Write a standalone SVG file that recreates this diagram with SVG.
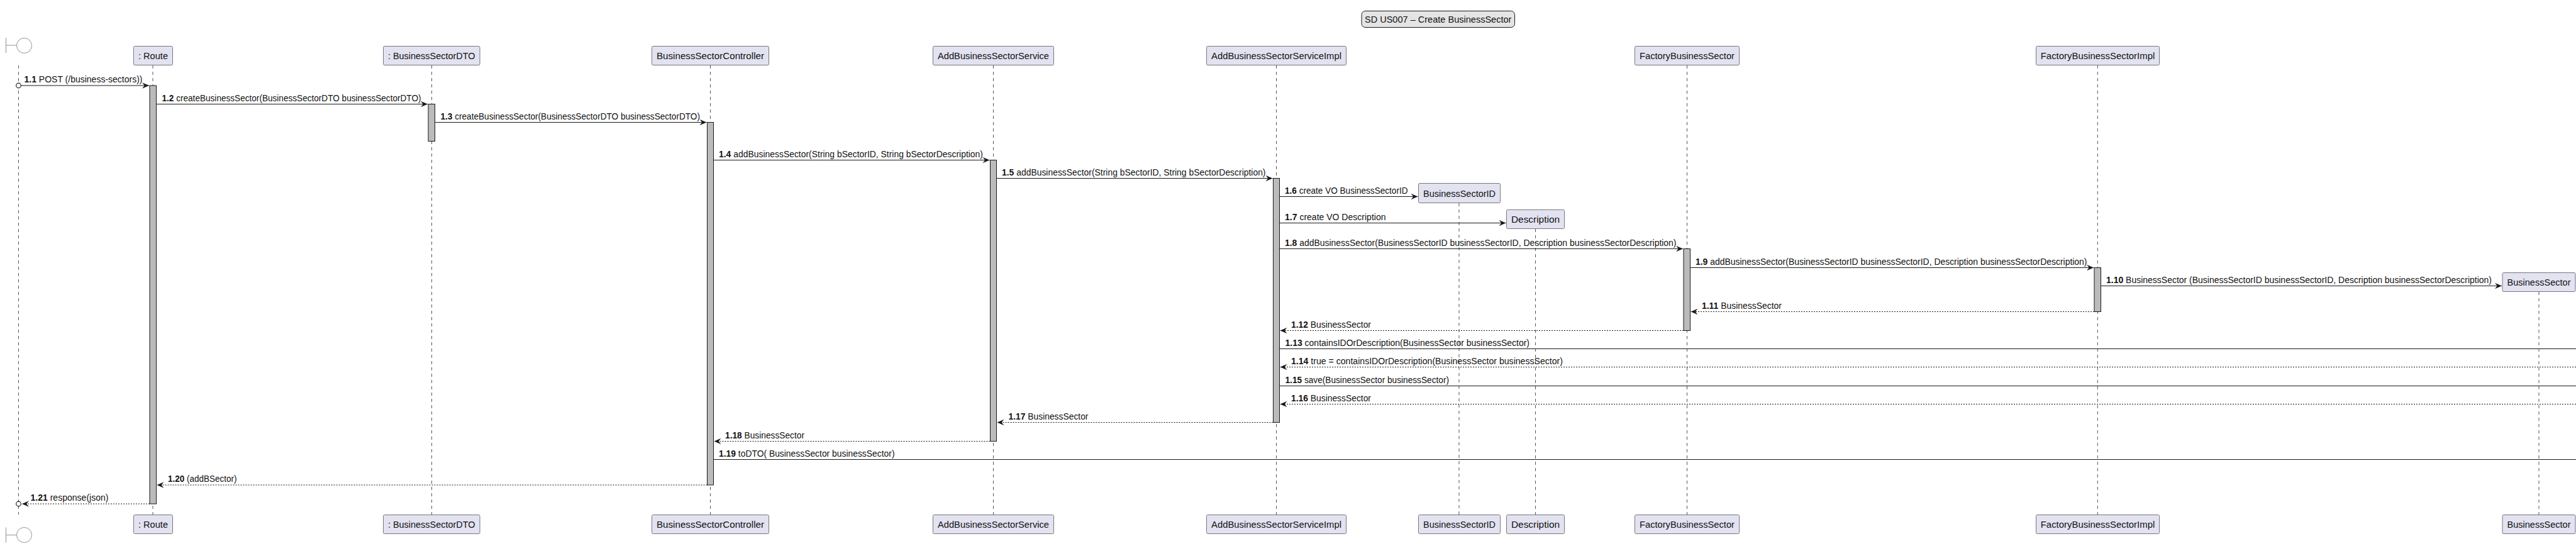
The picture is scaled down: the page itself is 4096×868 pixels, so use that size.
<svg xmlns="http://www.w3.org/2000/svg" width="4096" height="868" viewBox="0 0 4096 868">
<style>
text{font-family:"Liberation Sans",Arial,sans-serif;fill:#111}
.msg{font-size:14px}
.msg tspan{font-weight:700}
.lbl{font-size:15px;text-anchor:middle}
.title{font-size:15px;text-anchor:middle}
.box{fill:#E2E2F0;stroke:#777780;stroke-width:1}
.life{stroke:#555;stroke-width:1;stroke-dasharray:5 5;fill:none}
.act{fill:#BBB;stroke:#181818;stroke-width:1}
.sync{stroke:#181818;stroke-width:1.2;fill:none}
.ret{stroke:#181818;stroke-width:1.2;stroke-dasharray:2 2;fill:none}
.boundary{fill:#fff;stroke:#777;stroke-width:.8}
.end{fill:#fff;stroke:#181818;stroke-width:1.2}
</style>
<defs>
<marker id="a" markerUnits="userSpaceOnUse" markerWidth="12" markerHeight="12" refX="11" refY="5" orient="auto" viewBox="0 0 12 10" overflow="visible"><path d="M0 .3L11 5L0 9.700L3.800 5Z" fill="#181818"/></marker>
</defs>
<g id="title"><rect x="2165" y="17.500" width="243.500" height="26" rx="6" fill="#E4E4E4" stroke="#181818" stroke-width="1"/><text class="title" x="2286.700" y="35.500" textLength="233.500" lengthAdjust="spacingAndGlyphs">SD US007 – Create BusinessSector</text></g>
<g id="lifelines">
<path class="life" d="M29.500 104V818M243 104V818M686.500 104V818M1129.500 104V818M1579.500 104V818M2029.500 104V818M2320 323V818M2441.500 364V818M2682.500 104V818M3335.300 104V818M4037 464V818"/>
</g>
<g id="node-boundary-top"><path class="boundary" d="M9.500 60V84M9.500 72H26"/><circle class="boundary" cx="38.500" cy="72.500" r="12"/></g>
<g id="node-boundary-bottom"><path class="boundary" d="M9.500 838.500V862.500M9.500 850.500H26"/><circle class="boundary" cx="38.500" cy="850.500" r="12"/></g>
<g id="node-route-top"><rect class="box" x="212.500" y="73.500" width="62" height="30" rx="2"/><text class="lbl" x="243.500" y="94" textLength="47" lengthAdjust="spacingAndGlyphs">: Route</text></g>
<g id="node-dto-top"><rect class="box" x="609.500" y="73.500" width="153.500" height="30" rx="2"/><text class="lbl" x="686.200" y="94" textLength="138.500" lengthAdjust="spacingAndGlyphs">: BusinessSectorDTO</text></g>
<g id="node-controller-top"><rect class="box" x="1036.500" y="73.500" width="186" height="30" rx="2"/><text class="lbl" x="1129.500" y="94" textLength="171" lengthAdjust="spacingAndGlyphs">BusinessSectorController</text></g>
<g id="node-service-top"><rect class="box" x="1483.500" y="73.500" width="192" height="30" rx="2"/><text class="lbl" x="1579.500" y="94" textLength="177" lengthAdjust="spacingAndGlyphs">AddBusinessSectorService</text></g>
<g id="node-impl-top"><rect class="box" x="1918.500" y="73.500" width="222" height="30" rx="2"/><text class="lbl" x="2029.500" y="94" textLength="207" lengthAdjust="spacingAndGlyphs">AddBusinessSectorServiceImpl</text></g>
<g id="node-factory-top"><rect class="box" x="2599.500" y="73.500" width="166" height="30" rx="2"/><text class="lbl" x="2682.500" y="94" textLength="151" lengthAdjust="spacingAndGlyphs">FactoryBusinessSector</text></g>
<g id="node-factoryimpl-top"><rect class="box" x="3237.500" y="73.500" width="196" height="30" rx="2"/><text class="lbl" x="3335.500" y="94" textLength="181.500" lengthAdjust="spacingAndGlyphs">FactoryBusinessSectorImpl</text></g>
<g id="node-id-created"><rect class="box" x="2255.500" y="291.500" width="130" height="31" rx="2"/><text class="lbl" x="2320.500" y="312.500" textLength="115" lengthAdjust="spacingAndGlyphs">BusinessSectorID</text></g>
<g id="node-description-created"><rect class="box" x="2395.500" y="333.500" width="92" height="30" rx="2"/><text class="lbl" x="2441.500" y="354" textLength="77" lengthAdjust="spacingAndGlyphs">Description</text></g>
<g id="node-sector-created"><rect class="box" x="3979" y="433.500" width="116" height="30" rx="2"/><text class="lbl" x="4037" y="454" textLength="101" lengthAdjust="spacingAndGlyphs">BusinessSector</text></g>
<g id="activations">
<rect class="act" x="238" y="136" width="10.500" height="665"/>
<rect class="act" x="681" y="165.500" width="10.500" height="59"/>
<rect class="act" x="1124.500" y="194.500" width="10" height="576.500"/>
<rect class="act" x="1574.500" y="254.500" width="10" height="447"/>
<rect class="act" x="2024.500" y="283.500" width="10" height="388"/>
<rect class="act" x="2677" y="395.500" width="10.500" height="130"/>
<rect class="act" x="3330" y="425.500" width="10.500" height="70"/>
</g>
<g id="connectors">
<circle class="end" cx="29.500" cy="136" r="3.800"/>
<line class="sync" x1="33.500" y1="136" x2="237" y2="136" marker-end="url(#a)"/>
<line class="sync" x1="248.500" y1="165.500" x2="680" y2="165.500" marker-end="url(#a)"/>
<line class="sync" x1="691.500" y1="194.500" x2="1123.500" y2="194.500" marker-end="url(#a)"/>
<line class="sync" x1="1134.500" y1="254.500" x2="1573.500" y2="254.500" marker-end="url(#a)"/>
<line class="sync" x1="1584.500" y1="283.500" x2="2023.500" y2="283.500" marker-end="url(#a)"/>
<line class="sync" x1="2034.500" y1="312.500" x2="2254.500" y2="312.500" marker-end="url(#a)"/>
<line class="sync" x1="2034.500" y1="354.500" x2="2394.500" y2="354.500" marker-end="url(#a)"/>
<line class="sync" x1="2034.500" y1="395.500" x2="2676" y2="395.500" marker-end="url(#a)"/>
<line class="sync" x1="2687.500" y1="425.500" x2="3329" y2="425.500" marker-end="url(#a)"/>
<line class="sync" x1="3340.500" y1="454.500" x2="3978" y2="454.500" marker-end="url(#a)"/>
<line class="ret" x1="3330" y1="495.500" x2="2688.500" y2="495.500" marker-end="url(#a)"/>
<line class="ret" x1="2677" y1="525.500" x2="2035.500" y2="525.500" marker-end="url(#a)"/>
<line class="sync" x1="2034.500" y1="554.500" x2="4096" y2="554.500"/>
<line class="ret" x1="4096" y1="583.500" x2="2035.500" y2="583.500" marker-end="url(#a)"/>
<line class="sync" x1="2034.500" y1="613.500" x2="4096" y2="613.500"/>
<line class="ret" x1="4096" y1="642.500" x2="2035.500" y2="642.500" marker-end="url(#a)"/>
<line class="ret" x1="2024.500" y1="671.500" x2="1585.500" y2="671.500" marker-end="url(#a)"/>
<line class="ret" x1="1574.500" y1="701.500" x2="1135.500" y2="701.500" marker-end="url(#a)"/>
<line class="sync" x1="1134.500" y1="730.500" x2="4096" y2="730.500"/>
<line class="ret" x1="1124.500" y1="771" x2="249.500" y2="771" marker-end="url(#a)"/>
<line class="ret" x1="238" y1="801" x2="35" y2="801" marker-end="url(#a)"/>
<circle class="end" cx="29.500" cy="801" r="3.800"/>
</g>
<g id="labels">
<text class="msg" x="38.500" y="131" textLength="188" lengthAdjust="spacingAndGlyphs"><tspan>1.1</tspan> POST (/business-sectors))</text>
<text class="msg" x="257.500" y="160.500" textLength="412" lengthAdjust="spacingAndGlyphs"><tspan>1.2</tspan> createBusinessSector(BusinessSectorDTO businessSectorDTO)</text>
<text class="msg" x="700.500" y="189.500" textLength="412.500" lengthAdjust="spacingAndGlyphs"><tspan>1.3</tspan> createBusinessSector(BusinessSectorDTO businessSectorDTO)</text>
<text class="msg" x="1143" y="249.500" textLength="420" lengthAdjust="spacingAndGlyphs"><tspan>1.4</tspan> addBusinessSector(String bSectorID, String bSectorDescription)</text>
<text class="msg" x="1593" y="278.500" textLength="419.500" lengthAdjust="spacingAndGlyphs"><tspan>1.5</tspan> addBusinessSector(String bSectorID, String bSectorDescription)</text>
<text class="msg" x="2043" y="307.500" textLength="195.500" lengthAdjust="spacingAndGlyphs"><tspan>1.6</tspan> create VO BusinessSectorID</text>
<text class="msg" x="2043" y="349.500" textLength="160.500" lengthAdjust="spacingAndGlyphs"><tspan>1.7</tspan> create VO Description</text>
<text class="msg" x="2043" y="390.500" textLength="622.500" lengthAdjust="spacingAndGlyphs"><tspan>1.8</tspan> addBusinessSector(BusinessSectorID businessSectorID, Description businessSectorDescription)</text>
<text class="msg" x="2696" y="420.500" textLength="622.500" lengthAdjust="spacingAndGlyphs"><tspan>1.9</tspan> addBusinessSector(BusinessSectorID businessSectorID, Description businessSectorDescription)</text>
<text class="msg" x="3349" y="449.500" textLength="613" lengthAdjust="spacingAndGlyphs"><tspan>1.10</tspan> BusinessSector (BusinessSectorID businessSectorID, Description businessSectorDescription)</text>
<text class="msg" x="2706" y="490.500" textLength="127" lengthAdjust="spacingAndGlyphs"><tspan>1.11</tspan> BusinessSector</text>
<text class="msg" x="2053" y="520.500" textLength="127" lengthAdjust="spacingAndGlyphs"><tspan>1.12</tspan> BusinessSector</text>
<text class="msg" x="2043.500" y="549.500" textLength="388.500" lengthAdjust="spacingAndGlyphs"><tspan>1.13</tspan> containsIDOrDescription(BusinessSector businessSector)</text>
<text class="msg" x="2053" y="578.500" textLength="432" lengthAdjust="spacingAndGlyphs"><tspan>1.14</tspan> true = containsIDOrDescription(BusinessSector businessSector)</text>
<text class="msg" x="2043.500" y="608.500" textLength="260.500" lengthAdjust="spacingAndGlyphs"><tspan>1.15</tspan> save(BusinessSector businessSector)</text>
<text class="msg" x="2053" y="637.500" textLength="127" lengthAdjust="spacingAndGlyphs"><tspan>1.16</tspan> BusinessSector</text>
<text class="msg" x="1603.500" y="666.500" textLength="127" lengthAdjust="spacingAndGlyphs"><tspan>1.17</tspan> BusinessSector</text>
<text class="msg" x="1153" y="696.500" textLength="126" lengthAdjust="spacingAndGlyphs"><tspan>1.18</tspan> BusinessSector</text>
<text class="msg" x="1143" y="725.500" textLength="279.500" lengthAdjust="spacingAndGlyphs"><tspan>1.19</tspan> toDTO( BusinessSector businessSector)</text>
<text class="msg" x="267" y="766" textLength="109.500" lengthAdjust="spacingAndGlyphs"><tspan>1.20</tspan> (addBSector)</text>
<text class="msg" x="48.500" y="796" textLength="124" lengthAdjust="spacingAndGlyphs"><tspan>1.21</tspan> response(json)</text>
</g>
<g id="node-route-bottom"><rect class="box" x="212.500" y="818.500" width="62" height="30" rx="2"/><text class="lbl" x="243.500" y="839" textLength="47" lengthAdjust="spacingAndGlyphs">: Route</text></g>
<g id="node-dto-bottom"><rect class="box" x="609.500" y="818.500" width="153.500" height="30" rx="2"/><text class="lbl" x="686.200" y="839" textLength="138.500" lengthAdjust="spacingAndGlyphs">: BusinessSectorDTO</text></g>
<g id="node-controller-bottom"><rect class="box" x="1036.500" y="818.500" width="186" height="30" rx="2"/><text class="lbl" x="1129.500" y="839" textLength="171" lengthAdjust="spacingAndGlyphs">BusinessSectorController</text></g>
<g id="node-service-bottom"><rect class="box" x="1483.500" y="818.500" width="192" height="30" rx="2"/><text class="lbl" x="1579.500" y="839" textLength="177" lengthAdjust="spacingAndGlyphs">AddBusinessSectorService</text></g>
<g id="node-impl-bottom"><rect class="box" x="1918.500" y="818.500" width="222" height="30" rx="2"/><text class="lbl" x="2029.500" y="839" textLength="207" lengthAdjust="spacingAndGlyphs">AddBusinessSectorServiceImpl</text></g>
<g id="node-id-bottom"><rect class="box" x="2255.500" y="818.500" width="130" height="30" rx="2"/><text class="lbl" x="2320.500" y="839" textLength="115" lengthAdjust="spacingAndGlyphs">BusinessSectorID</text></g>
<g id="node-description-bottom"><rect class="box" x="2395.500" y="818.500" width="92" height="30" rx="2"/><text class="lbl" x="2441.500" y="839" textLength="77" lengthAdjust="spacingAndGlyphs">Description</text></g>
<g id="node-factory-bottom"><rect class="box" x="2599.500" y="818.500" width="166" height="30" rx="2"/><text class="lbl" x="2682.500" y="839" textLength="151" lengthAdjust="spacingAndGlyphs">FactoryBusinessSector</text></g>
<g id="node-factoryimpl-bottom"><rect class="box" x="3237.500" y="818.500" width="196" height="30" rx="2"/><text class="lbl" x="3335.500" y="839" textLength="181.500" lengthAdjust="spacingAndGlyphs">FactoryBusinessSectorImpl</text></g>
<g id="node-sector-bottom"><rect class="box" x="3979" y="818.500" width="116" height="30" rx="2"/><text class="lbl" x="4037" y="839" textLength="101" lengthAdjust="spacingAndGlyphs">BusinessSector</text></g>
</svg>
